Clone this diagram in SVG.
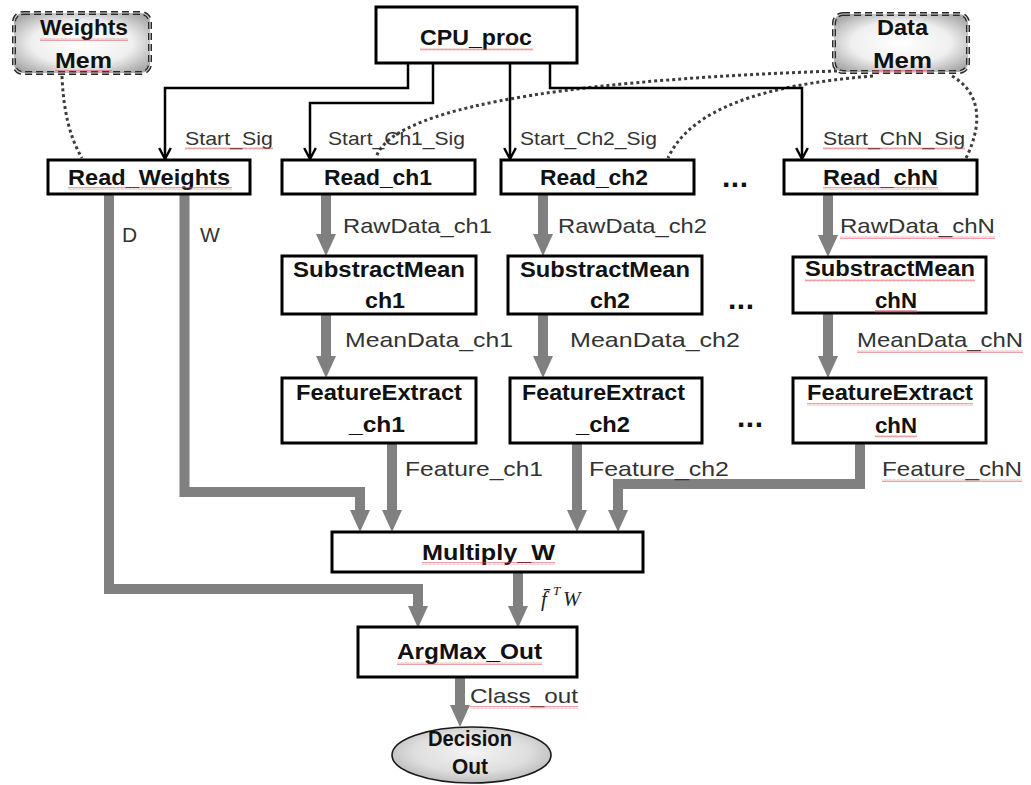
<svg xmlns="http://www.w3.org/2000/svg" width="1031" height="785" viewBox="0 0 1031 785">
  <defs>
    <style>
      .box { fill: #ffffff; stroke: #000000; stroke-width: 3; }
      .mem { fill: url(#memFill); stroke: #2a2a2a; stroke-width: 4; stroke-dasharray: 7 4; }
      .memIn { fill: none; stroke: #d8d8d8; stroke-width: 1.2; stroke-dasharray: 7 4; }
      .out { fill: url(#outFill); stroke: #1a1a1a; stroke-width: 1.6; }
      .name { font-family: "Liberation Sans", Arial, sans-serif; font-weight: bold; font-size: 22px; fill: #111111; }
      .sig { font-family: "Liberation Sans", Arial, sans-serif; font-size: 19px; fill: #333333; }
      .dat { font-family: "Liberation Sans", Arial, sans-serif; font-size: 21px; fill: #333333; }
      .math { font-family: "Liberation Serif", "Times New Roman", serif; font-style: italic; font-size: 21px; fill: #222222; }
      .dots { font-family: "Liberation Sans", Arial, sans-serif; font-weight: bold; font-size: 30px; fill: #111111; }
      .ctl { fill: none; stroke: #000000; stroke-width: 2.5; marker-end: url(#ctlHead); }
      .flow { fill: none; stroke: #808080; stroke-width: 10; marker-end: url(#flowHead); }
      .dot { fill: none; stroke: #3c3c3c; stroke-width: 3; stroke-dasharray: 3 3; }
      .spell { fill: url(#spell); opacity: 0.75; }
    </style>
    <radialGradient id="memFill" cx="50%" cy="50%" r="62%">
      <stop offset="0" stop-color="#ffffff"/>
      <stop offset="0.6" stop-color="#efefef"/>
      <stop offset="1" stop-color="#a9a9a9"/>
    </radialGradient>
    <radialGradient id="outFill" cx="50%" cy="45%" r="60%">
      <stop offset="0" stop-color="#f4f4f4"/>
      <stop offset="0.6" stop-color="#dedede"/>
      <stop offset="1" stop-color="#b4b4b4"/>
    </radialGradient>
    <!-- open V head for control signals -->
    <marker id="ctlHead" viewBox="0 0 14 14" refX="12.5" refY="7" markerWidth="14" markerHeight="14" markerUnits="userSpaceOnUse" orient="auto">
      <path d="M1.5,1.2 L12.5,7 L1.5,12.8" fill="none" stroke="#000000" stroke-width="2.4"/>
    </marker>
    <!-- solid grey head for data paths; tip sits 12px past the path end -->
    <marker id="flowHead" viewBox="0 0 22 20" refX="10" refY="10" markerWidth="22" markerHeight="20" markerUnits="userSpaceOnUse" orient="auto">
      <path d="M0,0 L22,10 L0,20 Z" fill="#808080"/>
    </marker>
    <!-- wavy underline -->
    <pattern id="spell" width="4" height="3" patternUnits="userSpaceOnUse">
      <path d="M0,2.5 L1,0.5 L2,2.5 L3,0.5 L4,2.5" fill="none" stroke="#d85050" stroke-width="0.7"/>
    </pattern>
  </defs>

  <rect width="1031" height="785" fill="#ffffff"/>

  <!-- connectors -->
  <g id="connectors">
    <!-- memory links -->
    <path class="dot" d="M62,76 Q64,128 82,158"/>
    <path class="dot" d="M837,71 C620,78 392,100 376,158"/>
    <path class="dot" d="M873,76 C760,85 690,110 668,158"/>
    <path class="dot" d="M952,76 C985,95 980,130 966,158"/>

    <!-- start signals from CPU_proc -->
    <path class="ctl" d="M408,63 V88 H165 V159"/>
    <path class="ctl" d="M433,63 V103 H310 V159"/>
    <path class="ctl" d="M510,63 V159"/>
    <path class="ctl" d="M550,63 V88 H802 V159"/>

    <!-- per-channel data flow -->
    <path class="flow" d="M326,195 V244"/>
    <path class="flow" d="M543,195 V244"/>
    <path class="flow" d="M828,195 V245"/>
    <path class="flow" d="M326,315 V366"/>
    <path class="flow" d="M543,315 V366"/>
    <path class="flow" d="M828,314 V366"/>
    <path class="flow" d="M392,444 V520"/>
    <path class="flow" d="M577,444 V520"/>
    <path class="flow" d="M860,444 V484 H618 V520"/>

    <!-- weights -->
    <path class="flow" d="M184.5,195 V492 H360 V520"/>
    <path class="flow" d="M109,195 V589 H418 V616"/>

    <!-- classification -->
    <path class="flow" d="M518,573 V616"/>
    <path class="flow" d="M460,678 V715"/>

    <!-- connector labels -->
    <text class="sig" x="185" y="145" textLength="88" lengthAdjust="spacingAndGlyphs">Start_Sig</text>
    <text class="sig" x="328" y="145" textLength="137" lengthAdjust="spacingAndGlyphs">Start_Ch1_Sig</text>
    <text class="sig" x="520" y="145" textLength="137" lengthAdjust="spacingAndGlyphs">Start_Ch2_Sig</text>
    <text class="sig" x="823" y="145" textLength="142" lengthAdjust="spacingAndGlyphs">Start_ChN_Sig</text>

    <text class="dat" x="122" y="242">D</text>
    <text class="dat" x="200" y="242">W</text>

    <text class="dat" x="343" y="233" textLength="149" lengthAdjust="spacingAndGlyphs">RawData_ch1</text>
    <text class="dat" x="558" y="233" textLength="149" lengthAdjust="spacingAndGlyphs">RawData_ch2</text>
    <text class="dat" x="840" y="233" textLength="155" lengthAdjust="spacingAndGlyphs">RawData_chN</text>

    <text class="dat" x="345" y="347" textLength="168" lengthAdjust="spacingAndGlyphs">MeanData_ch1</text>
    <text class="dat" x="570" y="347" textLength="170" lengthAdjust="spacingAndGlyphs">MeanData_ch2</text>
    <text class="dat" x="857" y="347" textLength="166" lengthAdjust="spacingAndGlyphs">MeanData_chN</text>

    <text class="dat" x="405" y="476" textLength="138" lengthAdjust="spacingAndGlyphs">Feature_ch1</text>
    <text class="dat" x="589" y="476" textLength="140" lengthAdjust="spacingAndGlyphs">Feature_ch2</text>
    <text class="dat" x="882" y="476" textLength="140" lengthAdjust="spacingAndGlyphs">Feature_chN</text>

    <text class="math" x="541" y="606">f&#x0304;<tspan x="553" y="595" font-size="13">T</tspan><tspan x="563" y="606">W</tspan></text>

    <text class="dat" x="470" y="703" textLength="108" lengthAdjust="spacingAndGlyphs">Class_out</text>

    <!-- wavy underlines on labels -->
    <rect class="spell" x="185" y="147" width="88" height="3"/>
    <rect class="spell" x="823" y="147" width="142" height="3"/>
    <rect class="spell" x="840" y="236" width="155" height="3"/>
    <rect class="spell" x="857" y="350" width="166" height="3"/>
    <rect class="spell" x="882" y="479" width="140" height="3"/>
    <rect class="spell" x="470" y="706" width="108" height="3"/>
  </g>

  <!-- memories -->
  <g id="weights-mem">
    <rect class="mem" x="14" y="13" width="136" height="60" rx="9"/>
    <rect class="memIn" x="14" y="13" width="136" height="60" rx="9"/>
    <text class="name" x="40" y="35" font-size="19" textLength="88" lengthAdjust="spacingAndGlyphs">Weights</text>
    <text class="name" x="55" y="68" font-size="19" textLength="57" lengthAdjust="spacingAndGlyphs">Mem</text>
    <rect class="spell" x="40" y="38" width="88" height="3"/>
    <rect class="spell" x="55" y="70" width="57" height="3"/>
  </g>

  <g id="data-mem">
    <rect class="mem" x="834" y="14" width="134" height="58" rx="9"/>
    <rect class="memIn" x="834" y="14" width="134" height="58" rx="9"/>
    <text class="name" x="877" y="35" font-size="19" textLength="51" lengthAdjust="spacingAndGlyphs">Data</text>
    <text class="name" x="873" y="68" font-size="19" textLength="59" lengthAdjust="spacingAndGlyphs">Mem</text>
    <rect class="spell" x="873" y="70" width="59" height="3"/>
  </g>

  <!-- controller -->
  <g id="cpu-proc">
    <rect class="box" x="376" y="7" width="201" height="56"/>
    <text class="name" x="420" y="45" font-size="21" textLength="112" lengthAdjust="spacingAndGlyphs">CPU_proc</text>
    <rect class="spell" x="420" y="48" width="113" height="3"/>
  </g>

  <!-- readers -->
  <g id="read-weights">
    <rect class="box" x="48" y="160" width="202" height="34"/>
    <text class="name" x="68" y="185" textLength="162" lengthAdjust="spacingAndGlyphs">Read_Weights</text>
    <rect class="spell" x="68" y="187" width="164" height="3"/>
  </g>
  <g id="read-ch1">
    <rect class="box" x="282" y="160" width="193" height="34"/>
    <text class="name" x="324" y="185" textLength="108" lengthAdjust="spacingAndGlyphs">Read_ch1</text>
  </g>
  <g id="read-ch2">
    <rect class="box" x="501" y="160" width="193" height="34"/>
    <text class="name" x="540" y="185" textLength="108" lengthAdjust="spacingAndGlyphs">Read_ch2</text>
  </g>
  <g id="read-chN">
    <rect class="box" x="784" y="160" width="193" height="34"/>
    <text class="name" x="823" y="185" textLength="115" lengthAdjust="spacingAndGlyphs">Read_chN</text>
    <rect class="spell" x="823" y="187" width="115" height="3"/>
  </g>

  <!-- mean removal -->
  <g id="subtract-mean-ch1">
    <rect class="box" x="282" y="256" width="194" height="58"/>
    <text class="name" x="293" y="277" textLength="172" lengthAdjust="spacingAndGlyphs">SubstractMean</text>
    <text class="name" x="365" y="308" textLength="40" lengthAdjust="spacingAndGlyphs">ch1</text>
  </g>
  <g id="subtract-mean-ch2">
    <rect class="box" x="508" y="256" width="194" height="58"/>
    <text class="name" x="520" y="277" textLength="170" lengthAdjust="spacingAndGlyphs">SubstractMean</text>
    <text class="name" x="590" y="308" textLength="40" lengthAdjust="spacingAndGlyphs">ch2</text>
  </g>
  <g id="subtract-mean-chN">
    <rect class="box" x="793" y="257" width="193" height="56"/>
    <text class="name" x="805" y="276" textLength="170" lengthAdjust="spacingAndGlyphs">SubstractMean</text>
    <text class="name" x="875" y="308" textLength="42" lengthAdjust="spacingAndGlyphs">chN</text>
    <rect class="spell" x="805" y="279" width="170" height="3"/>
    <rect class="spell" x="875" y="310" width="42" height="3"/>
  </g>

  <!-- feature extraction -->
  <g id="feature-extract-ch1">
    <rect class="box" x="282" y="378" width="194" height="65"/>
    <text class="name" x="296" y="400" textLength="166" lengthAdjust="spacingAndGlyphs">FeatureExtract</text>
    <text class="name" x="349" y="432" textLength="56" lengthAdjust="spacingAndGlyphs">_ch1</text>
  </g>
  <g id="feature-extract-ch2">
    <rect class="box" x="510" y="378" width="192" height="65"/>
    <text class="name" x="522" y="400" textLength="163" lengthAdjust="spacingAndGlyphs">FeatureExtract</text>
    <text class="name" x="576" y="432" textLength="54" lengthAdjust="spacingAndGlyphs">_ch2</text>
  </g>
  <g id="feature-extract-chN">
    <rect class="box" x="793" y="378" width="193" height="65"/>
    <text class="name" x="807" y="400" textLength="166" lengthAdjust="spacingAndGlyphs">FeatureExtract</text>
    <text class="name" x="875" y="433" textLength="42" lengthAdjust="spacingAndGlyphs">chN</text>
    <rect class="spell" x="807" y="403" width="166" height="3"/>
    <rect class="spell" x="875" y="435" width="42" height="3"/>
  </g>

  <!-- channel ellipses -->
  <g id="more-channels">
    <text class="dots" x="722" y="187" textLength="26">...</text>
    <text class="dots" x="728" y="309" textLength="26">...</text>
    <text class="dots" x="737" y="427" textLength="26">...</text>
  </g>

  <!-- classifier -->
  <g id="multiply-w">
    <rect class="box" x="332" y="532" width="311" height="40"/>
    <text class="name" x="422" y="560" textLength="133" lengthAdjust="spacingAndGlyphs">Multiply_W</text>
    <rect class="spell" x="422" y="562" width="133" height="3"/>
  </g>
  <g id="argmax-out">
    <rect class="box" x="358" y="627" width="219" height="50"/>
    <text class="name" x="397" y="659" textLength="145" lengthAdjust="spacingAndGlyphs">ArgMax_Out</text>
    <rect class="spell" x="397" y="662" width="145" height="3"/>
  </g>
  <g id="decision-out">
    <ellipse class="out" cx="471.5" cy="755" rx="79.5" ry="28"/>
    <text class="name" x="428" y="746" font-size="19" textLength="84" lengthAdjust="spacingAndGlyphs">Decision</text>
    <text class="name" x="452" y="774" font-size="19" textLength="36" lengthAdjust="spacingAndGlyphs">Out</text>
  </g>
</svg>
